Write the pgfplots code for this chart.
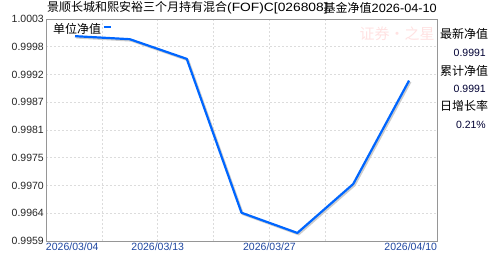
\documentclass[border=0pt]{standalone}
\usepackage{pgfplots}
\pgfplotsset{compat=1.18}
\usepackage{graphicx}
\usepackage{fontspec}
\setmainfont{Liberation Sans}
\newfontfamily\cjk{Noto Sans CJK SC}
\definecolor{navline}{RGB}{0,102,255}
\definecolor{xlab}{RGB}{30,70,160}
\definecolor{bordergray}{RGB}{150,150,150}
\definecolor{gridgray}{RGB}{220,220,220}
\begin{document}
\begin{tikzpicture}
\useasboundingbox (0pt,0pt) rectangle (488pt,-255pt);
\begin{axis}[
  at={(46pt,-241pt)}, anchor=south west,
  scale only axis, width=391pt, height=222pt,
  xmin=0, xmax=7, ymin=0.9959, ymax=1.0003,
  axis line style={bordergray, line width=0.8pt},
  xtick={0,1,2,3,4,5,7},
  xticklabels={\makebox[0pt][l]{2026/03/04},,2026/03/13,,2026/03/27,,\makebox[0pt][r]{2026/04/10}},
  ytick={0.9959,0.99645,0.9970,0.99755,0.9981,0.99865,0.9992,0.99975,1.0003},
  yticklabels={0.9959,0.9964,0.9970,0.9975,0.9981,0.9987,0.9992,0.9998,1.0003},
  major tick length=0pt,
  xmajorgrids, ymajorgrids,
  major grid style={gridgray, dash pattern=on 2pt off 2pt, line width=0.6pt},
  x tick label style={font=\fontsize{10.5}{12}\selectfont, text=xlab, anchor=north, inner sep=0pt, yshift=-2pt},
  y tick label style={font=\fontsize{10.5}{12}\selectfont, text=black!85, anchor=east, inner sep=0pt, xshift=-2pt},
  /pgf/number format/assume math mode=true,
  legend style={at={(0,1)}, anchor=north west, draw=none, fill=none, font=\cjk\fontsize{12}{14}\selectfont, inner sep=1pt, xshift=4pt, yshift=-1pt},
  legend plot pos=right,
  legend cell align=left,
]
\addplot[gray!40, line width=2.2pt, xshift=1.3pt, yshift=-1.3pt, forget plot] coordinates {
(0.52,0.99996) (1.5,0.99990) (2.52,0.99951) (3.5,0.99646) (4.5,0.99606) (5.5,0.99703) (6.5,0.99908)};
\addplot[navline, line width=2.2pt, line join=round,
  legend image code/.code={\draw[navline, line width=2.5pt] (0pt,2pt) -- (7pt,2pt);}] coordinates {
(0.52,0.99996) (1.5,0.99990) (2.52,0.99951) (3.5,0.99646) (4.5,0.99606) (5.5,0.99703) (6.5,0.99908)};
\addlegendentry{单位净值}
\end{axis}
\node[anchor=center, inner sep=0pt, text=red!70!pink, opacity=0.15, font=\cjk\fontsize{15}{16}\selectfont] at (397pt,-34pt) {证券·之星};
\node[anchor=west, inner sep=0pt, font=\cjk\fontsize{12}{14}\selectfont] at (47pt,-8pt) {景顺长城和熙安裕三个月持有混合{\rmfamily\scalebox{1.15}[1]{(FOF)C[026808]}}};
\node[anchor=east, inner sep=0pt, font=\cjk\fontsize{12}{14}\selectfont] at (437pt,-8pt) {基金净值{\rmfamily\scalebox{1.06}[1]{2026-04-10}}};
\node[anchor=west, inner sep=0pt, font=\cjk\fontsize{12}{14}\selectfont] at (440pt,-34pt) {最新净值};
\node[anchor=east, inner sep=0pt, font=\fontsize{10.5}{12}\selectfont, text=black!80!blue] at (486pt,-52.5pt) {0.9991};
\node[anchor=west, inner sep=0pt, font=\cjk\fontsize{12}{14}\selectfont] at (440pt,-71pt) {累计净值};
\node[anchor=east, inner sep=0pt, font=\fontsize{10.5}{12}\selectfont, text=black!80!blue] at (486pt,-88.5pt) {0.9991};
\node[anchor=west, inner sep=0pt, font=\cjk\fontsize{12}{14}\selectfont] at (440pt,-106pt) {日增长率};
\node[anchor=east, inner sep=0pt, font=\fontsize{10.5}{12}\selectfont, text=black!80!blue] at (486pt,-125pt) {0.21\%};
\end{tikzpicture}
\end{document}
